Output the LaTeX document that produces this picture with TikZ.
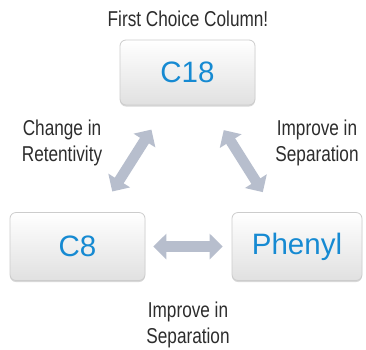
\documentclass[tikz,border=0pt]{standalone}
\usepackage{fontspec}
\setmainfont{Liberation Sans}
\newfontfamily\condfont[FakeStretch=0.8]{Liberation Sans}
\usetikzlibrary{arrows.meta,shadows}
\definecolor{boxblue}{RGB}{22,138,210}
\definecolor{arrowgray}{RGB}{183,190,205}
\definecolor{labelgray}{RGB}{45,45,45}
\tikzset{
  colbox/.style={draw=black!20, line width=0.8pt, rounded corners=6pt,
    top color=white, bottom color=black!12, minimum width=#1, minimum height=67pt,
    inner sep=0pt, font=\fontsize{29.5}{34}\selectfont, text=boxblue,
    drop shadow={shadow xshift=0pt, shadow yshift=-1.5pt, opacity=0.25, fill=black!60}},
  bigarrow/.style={draw=arrowgray, line width=10.5pt,
    {Triangle[width=25pt,length=13pt]}-{Triangle[width=25pt,length=13pt]}},
  lab/.style={font=\condfont\fontsize{21.5}{26}\selectfont, text=labelgray,
    align=center, inner sep=0pt, anchor=north}
}
\begin{document}
\begin{tikzpicture}[x=1pt,y=-1pt]
\useasboundingbox (0,0) rectangle (366,349);
\fill[white] (0,0) rectangle (366,349);
\node[colbox=135pt, minimum height=65pt] (c18) at (187.5,72.5) {C18};
\node[colbox=135pt, minimum height=68pt] (c8) at (77.5,246.5) {C8};
\node[colbox=130pt, minimum height=68pt] (phenyl) at (297,246.5) {Phenyl};
\draw[bigarrow, shorten <=28.6pt, shorten >=24.4pt] (c18) -- (c8);
\draw[bigarrow, shorten <=29.2pt, shorten >=23.6pt] (c18) -- (phenyl);
\draw[bigarrow, shorten <=8pt, shorten >=9pt] (c8) -- (phenyl);
\node[lab] (top) at (188,10.5) {First Choice Column!};
\node[lab] (left) at (62,120) {Change in\\Retentivity};
\node[lab] (right) at (317,120) {Improve in\\Separation};
\node[lab] (bottom) at (188,302) {Improve in\\Separation};
\end{tikzpicture}
\end{document}
